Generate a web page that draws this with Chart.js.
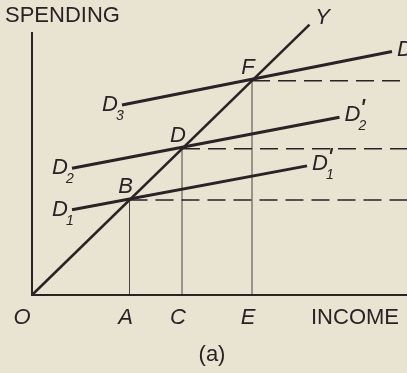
<!DOCTYPE html>
<html>
<head>
<meta charset="utf-8">
<script src="https://cdn.jsdelivr.net/npm/chart.js@4/dist/chart.umd.min.js"></script>
<style>
  html, body { margin: 0; padding: 0; background: #e9e3d2; }
  canvas { display: block; }
</style>
</head>
<body>
<canvas id="chart" width="407" height="373"></canvas>
<script>
// income levels on the x axis (O, A, C, E)
const incomeTicks = [0, 39, 60, 88];
const incomeTickLabels = ['O', 'A', 'C', 'E'];

// 45 degree line Y
const yLine = [{x: 0, y: 0}, {x: 111, y: 111}];

// spending schedules D1-D1', D2-D2', D3-D3'
const d1 = [{x: 16, y: 35}, {x: 110, y: 53}];
const d2 = [{x: 16, y: 52}, {x: 123, y: 73}];
const d3 = [{x: 36, y: 78}, {x: 144, y: 100}];
const scheduleNames = ['1', '2', '3'];

// equilibrium points B, D, F
const equilibria = [{x: 39, y: 39}, {x: 60, y: 60}, {x: 88, y: 88}];
const equilibriumNames = ['B', 'D', 'F'];

const xMax = 150;
const yMax = 117;
const yAxisTop = 108;

const ink = '#2a2225';
const font = '"Liberation Sans", Arial, sans-serif';

const lineSet = (data, width, extra) => Object.assign({
  data: data,
  showLine: true,
  borderColor: ink,
  borderWidth: width,
  pointRadius: 0,
  fill: false,
  clip: false
}, extra || {});

var datasets = [
  lineSet([{x: 0, y: yAxisTop}, {x: 0, y: 0}, {x: xMax, y: 0}], 2),
  lineSet(yLine, 2.5),
  lineSet(d1, 3),
  lineSet(d2, 3),
  lineSet(d3, 3)
];
for (const p of equilibria) {
  datasets.push(lineSet([{x: p.x, y: 0}, {x: p.x, y: p.y}], 1, {borderColor: '#4a4244'}));
  datasets.push(lineSet([{x: p.x, y: p.y}, {x: xMax, y: p.y}], 1.5, {borderDash: [18, 8]}));
}

function drawD(ctx, x, y, sub, prime) {
  ctx.font = 'italic 22px ' + font;
  ctx.textAlign = 'left';
  ctx.textBaseline = 'middle';
  ctx.fillText('D', x, y);
  const w = ctx.measureText('D').width;
  ctx.font = 'italic 14px ' + font;
  ctx.fillText(sub, x + w - 2, y + 11);
  if (prime) {
    ctx.font = 'italic 28px ' + font;
    ctx.fillText("'", x + w - 1, y - 5);
  }
}

const labelPlugin = {
  id: 'labels',
  afterDraw(chart) {
    const ctx = chart.ctx;
    const xs = chart.scales.x;
    const ys = chart.scales.y;
    const px = (p) => ({x: xs.getPixelForValue(p.x), y: ys.getPixelForValue(p.y)});
    ctx.save();
    ctx.fillStyle = ink;

    // axis titles
    ctx.font = '22px ' + font;
    ctx.textBaseline = 'middle';
    ctx.textAlign = 'left';
    ctx.fillText('SPENDING', 5, 16);
    ctx.fillText('INCOME', 311, 318);
    ctx.textAlign = 'center';
    ctx.fillText('(a)', 212, 355);

    // income ticks
    ctx.font = 'italic 22px ' + font;
    incomeTicks.forEach((v, i) => {
      const x = xs.getPixelForValue(v) + (i === 0 ? -10 : -4);
      ctx.fillText(incomeTickLabels[i], x, ys.bottom + 23);
    });

    // Y label
    const yEnd = px(yLine[1]);
    ctx.fillText('Y', yEnd.x + 13, yEnd.y - 7);

    // equilibrium labels
    equilibria.forEach((p, i) => {
      const q = px(p);
      ctx.fillText(equilibriumNames[i], q.x - 4, q.y - 13);
    });

    // schedule labels
    [d1, d2, d3].forEach((line, i) => {
      const a = px(line[0]);
      const b = px(line[1]);
      drawD(ctx, a.x - 20, a.y, scheduleNames[i], false);
      drawD(ctx, b.x + 5, b.y - 2, scheduleNames[i], true);
    });
    ctx.restore();
  }
};

new Chart(document.getElementById('chart'), {
  type: 'scatter',
  data: {datasets: datasets},
  options: {
    responsive: false,
    devicePixelRatio: 1,
    animation: false,
    layout: {padding: {left: 32, right: 0, top: 10, bottom: 78}},
    plugins: {legend: {display: false}, tooltip: {enabled: false}},
    scales: {
      x: {type: 'linear', display: false, min: 0, max: xMax},
      y: {type: 'linear', display: false, min: 0, max: yMax}
    }
  },
  plugins: [labelPlugin]
});
</script>
</body>
</html>
